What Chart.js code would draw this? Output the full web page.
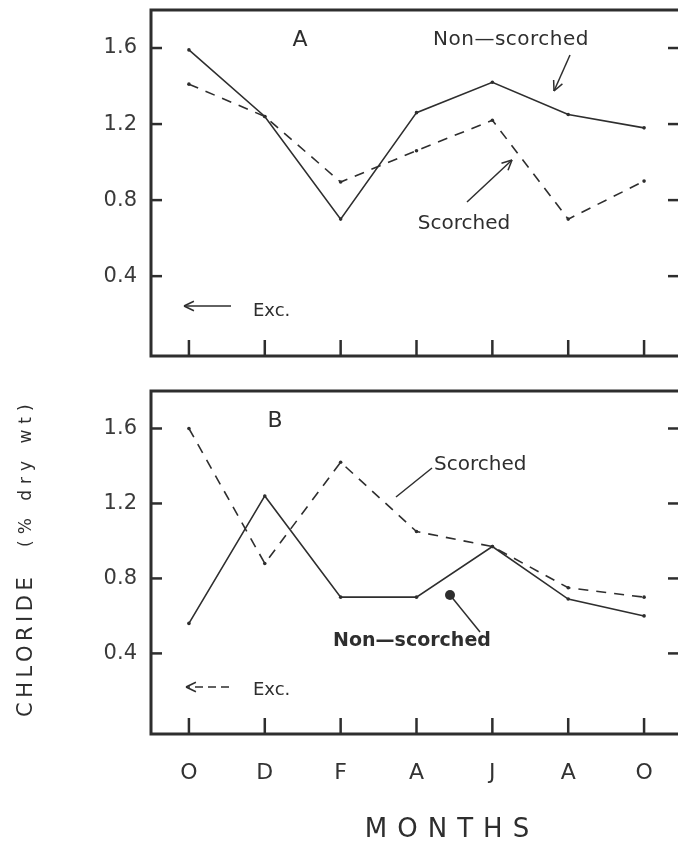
<!DOCTYPE html>
<html>
<head>
<meta charset="utf-8">
<script src="https://cdn.jsdelivr.net/npm/chart.js@4.4.0/dist/chart.umd.min.js"></script>
<style>
body{margin:0;background:#fff;overflow:hidden;width:678px;height:846px;position:relative}
canvas{position:absolute;left:0}
#graficoA{top:0}
#graficoB{top:370px}
</style>
</head>
<body>
<canvas id="graficoA" width="700" height="370"></canvas>
<canvas id="graficoB" width="700" height="476"></canvas>
<script>
// Datos (cloruro, % peso seco)
const meses = ['O', 'D', 'F', 'A', 'J', 'A', 'O'];
const ticksY = [0.4, 0.8, 1.2, 1.6];
const noQuemadoA = [1.59, 1.24, 0.70, 1.26, 1.42, 1.25, 1.18];
const quemadoA = [1.41, 1.24, 0.895, 1.06, 1.22, 0.70, 0.90];
const noQuemadoB = [0.56, 1.24, 0.70, 0.70, 0.97, 0.69, 0.60];
const quemadoB = [1.60, 0.88, 1.42, 1.05, 0.97, 0.75, 0.70];

const tinta = '#2e2e2e';
const fuente = 'DejaVu Sans';

function linea(ctx, x1, y1, x2, y2) {
    ctx.beginPath();
    ctx.moveTo(x1, y1);
    ctx.lineTo(x2, y2);
    ctx.stroke();
}

function flecha(ctx, x1, y1, x2, y2, punta) {
    linea(ctx, x1, y1, x2, y2);
    const ang = Math.atan2(y2 - y1, x2 - x1);
    if (punta == 'bola') {
        ctx.beginPath();
        ctx.arc(x2, y2, 5, 0, Math.PI * 2);
        ctx.fill();
        return;
    }
    if (punta == 'v') {
        ctx.setLineDash([]);
        const l = 11;
        linea(ctx, x2, y2, x2 - l * Math.cos(ang - 0.45), y2 - l * Math.sin(ang - 0.45));
        linea(ctx, x2, y2, x2 - l * Math.cos(ang + 0.45), y2 - l * Math.sin(ang + 0.45));
    }
}

function texto(ctx, txt, x, y, tam, opts = {}) {
    ctx.font = (opts.peso || 'normal') + ' ' + tam + 'px "' + fuente + '"';
    ctx.letterSpacing = (opts.espacio || 0) + 'px';
    ctx.textAlign = opts.align || 'center';
    ctx.textBaseline = 'middle';
    ctx.fillText(txt, x, y);
    ctx.letterSpacing = '0px';
}

// Marco, marcas hacia dentro y anotaciones de cada panel
function pluginPanel(notas) {
    return {
        id: 'panel',
        afterDraw(chart) {
            const { ctx, chartArea: a, scales: { x, y } } = chart;
            ctx.save();
            ctx.strokeStyle = tinta;
            ctx.fillStyle = tinta;
            ctx.lineWidth = 3;
            ctx.strokeRect(a.left, a.top, a.right - a.left, a.bottom - a.top);
            ctx.lineWidth = 2.5;
            ticksY.forEach(v => {
                const py = y.getPixelForValue(v);
                linea(ctx, a.left, py, a.left + 11, py);
                linea(ctx, a.right - 14, py, a.right, py);
            });
            meses.forEach((m, i) => {
                const px = x.getPixelForValue(i);
                linea(ctx, px, a.bottom, px, a.bottom - 16);
            });
            ctx.lineWidth = 1.5;
            notas(ctx, chart);
            ctx.restore();
        }
    };
}

function sinRelleno(s) {
    s.paddingTop = 0;
    s.paddingBottom = 0;
    s.paddingLeft = 0;
    s.paddingRight = 0;
}

function configPanel(solida, discontinua, abajo) {
    const datos1 = {
        label: 'Non-scorched',
        data: solida,
        borderColor: tinta,
        borderWidth: 1.6,
        pointRadius: 1.8,
        pointBackgroundColor: tinta,
        pointBorderWidth: 0,
        tension: 0
    };
    const datos2 = {
        label: 'Scorched',
        data: discontinua,
        borderColor: tinta,
        borderWidth: 1.6,
        borderDash: [10, 8],
        pointRadius: 1.8,
        pointBackgroundColor: tinta,
        pointBorderWidth: 0,
        tension: 0
    };
    return {
        type: 'line',
        data: { labels: meses, datasets: [datos1, datos2] },
        options: {
            responsive: false,
            animation: false,
            layout: {
                padding: abajo ? { top: 21, right: 18, bottom: 0, left: 0 } : { top: 10, right: 18, bottom: 14, left: 0 }
            },
            plugins: { legend: { display: false }, tooltip: { enabled: false } },
            scales: {
                x: {
                    type: 'category',
                    offset: true,
                    display: abajo,
                    grid: { display: false, drawTicks: false },
                    border: { display: false },
                    ticks: { color: '#333', padding: 26, font: { family: fuente, size: 22 } },
                    afterFit: s => {
                        sinRelleno(s);
                        s.height = abajo ? 112 : 0;
                    }
                },
                y: {
                    min: abajo ? -0.03 : -0.02,
                    max: 1.8,
                    grid: { display: false, drawTicks: false },
                    border: { display: false },
                    afterBuildTicks: s => { s.ticks = ticksY.map(v => ({ value: v })); },
                    ticks: {
                        color: '#3a3a3a',
                        padding: 14,
                        font: { family: fuente, size: 21 },
                        callback: v => v.toFixed(1)
                    },
                    afterFit: s => {
                        sinRelleno(s);
                        s.width = 151;
                    }
                }
            }
        }
    };
}

const configA = configPanel(noQuemadoA, quemadoA, false);
configA.plugins = [pluginPanel((ctx) => {
    texto(ctx, 'A', 300, 40, 22);
    texto(ctx, 'Non—scorched', 511, 40, 20, { espacio: 0.5 });
    flecha(ctx, 570, 55, 554, 91, 'v');
    texto(ctx, 'Scorched', 464, 224, 20);
    flecha(ctx, 467, 202, 512, 160, 'v');
    texto(ctx, 'Exc.', 253, 311, 18, { align: 'left' });
    flecha(ctx, 231, 306, 184, 306, 'v');
})];
new Chart(document.getElementById('graficoA'), configA);

const configB = configPanel(noQuemadoB, quemadoB, true);
configB.plugins = [pluginPanel((ctx) => {
    const dy = -370;
    texto(ctx, 'B', 275, 421 + dy, 22);
    texto(ctx, 'Scorched', 434, 465 + dy, 20, { align: 'left' });
    linea(ctx, 432, 468 + dy, 396, 497 + dy);
    texto(ctx, 'Non—scorched', 412, 641 + dy, 19, { peso: 'bold' });
    flecha(ctx, 480, 632 + dy, 450, 595 + dy, 'bola');
    texto(ctx, 'Exc.', 253, 690 + dy, 18, { align: 'left' });
    ctx.setLineDash([8, 5]);
    flecha(ctx, 229, 687 + dy, 186, 687 + dy, 'v');
    // Titulos de los ejes
    texto(ctx, 'MONTHS', 452, 830 + dy, 26, { espacio: 10 });
    ctx.save();
    ctx.translate(27, 717 + dy);
    ctx.rotate(-Math.PI / 2);
    texto(ctx, 'CHLORIDE', 0, 0, 21, { align: 'left', espacio: 4.5 });
    texto(ctx, '(% dry wt)', 170, 0, 17, { align: 'left', espacio: 6 });
    ctx.restore();
})];
new Chart(document.getElementById('graficoB'), configB);
</script>
</body>
</html>
